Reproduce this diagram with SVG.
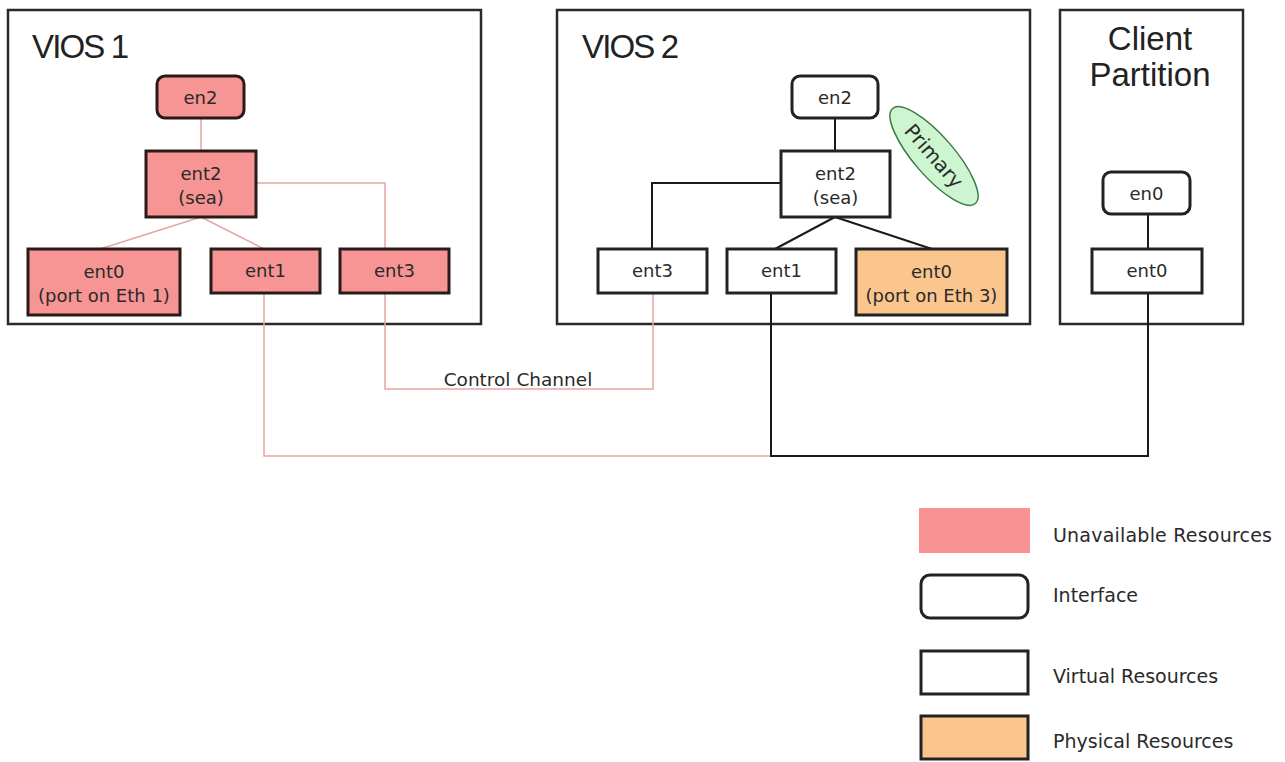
<svg xmlns="http://www.w3.org/2000/svg" width="1285" height="762" viewBox="0 0 1285 762">
<style>
.part{fill:#fff;stroke:#2a2a2a;stroke-width:2.5}
.title{font-family:"Liberation Sans",Arial,sans-serif;font-size:33px;fill:#222}
.t{font-family:"DejaVu Sans",Verdana,sans-serif;font-size:18px;fill:#2a2a2a;text-anchor:middle}
.lg{font-family:"DejaVu Sans",Verdana,sans-serif;font-size:19px;fill:#2a2a2a}
.un{fill:#F79494;stroke:#2a1a1a;stroke-width:3}
.vr{fill:#fff;stroke:#222;stroke-width:3}
.ph{fill:#FBC58E;stroke:#222;stroke-width:3}
.pl{fill:none;stroke:#E4A6A6;stroke-width:1.5}
.bl{fill:none;stroke:#1a1a1a;stroke-width:2}
</style>
<rect width="1285" height="762" fill="#fff"/>
<g id="vios1">
<rect class="part" x="8" y="10" width="473" height="314"/>
<text class="title" x="32" y="58" textLength="97">VIOS 1</text>
</g>
<g id="vios2">
<rect class="part" x="557" y="10" width="473" height="314"/>
<text class="title" x="582" y="58" textLength="97">VIOS 2</text>
</g>
<g id="client">
<rect class="part" x="1060" y="10" width="183" height="314"/>
<text class="title" x="1150" y="50" text-anchor="middle">Client</text>
<text class="title" x="1150" y="86" text-anchor="middle">Partition</text>
</g>
<g id="connectors">
<path class="pl" d="M201 118V151"/>
<path class="pl" d="M256 183H385V249"/>
<path class="pl" d="M201 217L100 249M201 217L264 249"/>
<path class="pl" d="M264 293V456H771"/>
<path class="pl" d="M385 293V389H653V293"/>
<path class="bl" d="M835 118V151"/>
<path class="bl" d="M781 183H652V249"/>
<path class="bl" d="M835 217L775 249M835 217L932 249"/>
<path class="bl" d="M771 293V456H1148V293"/>
<path class="bl" d="M1148 214V249"/>
<text x="518" y="386" class="t" style="font-size:18.5px">Control Channel</text>
</g>
<g id="v1-en2"><rect class="un" x="157" y="76" width="87" height="42" rx="8"/><text class="t" x="200.5" y="104">en2</text></g>
<g id="v1-ent2"><rect class="un" x="146" y="151" width="110" height="66"/><text class="t" x="201" y="180">ent2</text><text class="t" x="201" y="204">(sea)</text></g>
<g id="v1-ent0"><rect class="un" x="28" y="249" width="152" height="66"/><text class="t" x="104" y="278">ent0</text><text class="t" x="104" y="302">(port on Eth 1)</text></g>
<g id="v1-ent1"><rect class="un" x="211" y="249" width="109" height="44"/><text class="t" x="265.5" y="277">ent1</text></g>
<g id="v1-ent3"><rect class="un" x="340" y="249" width="109" height="44"/><text class="t" x="394.5" y="277">ent3</text></g>
<g id="v2-en2"><rect class="vr" x="792" y="76" width="86" height="42" rx="8"/><text class="t" x="835" y="104">en2</text></g>
<g id="v2-ent2"><rect class="vr" x="781" y="151" width="109" height="66"/><text class="t" x="835.5" y="180">ent2</text><text class="t" x="835.5" y="204">(sea)</text></g>
<g id="v2-primary"><g transform="translate(934 156) rotate(49)"><ellipse rx="63" ry="20" fill="#CDF5D0" stroke="#3C7A46" stroke-width="1.5"/><text class="t" x="0" y="7" style="font-size:20px">Primary</text></g></g>
<g id="v2-ent3"><rect class="vr" x="598" y="249" width="109" height="44"/><text class="t" x="652.5" y="277">ent3</text></g>
<g id="v2-ent1"><rect class="vr" x="727" y="249" width="109" height="44"/><text class="t" x="781.5" y="277">ent1</text></g>
<g id="v2-ent0"><rect class="ph" x="856" y="249" width="151" height="66"/><text class="t" x="931.5" y="278">ent0</text><text class="t" x="931.5" y="302">(port on Eth 3)</text></g>
<g id="c-en0"><rect class="vr" x="1103" y="172" width="87" height="42" rx="8"/><text class="t" x="1146.5" y="200">en0</text></g>
<g id="c-ent0"><rect class="vr" x="1092" y="249" width="110" height="44"/><text class="t" x="1147" y="277">ent0</text></g>
<g id="legend">
<rect x="919" y="508" width="111" height="45" fill="#F99393"/>
<text class="lg" x="1053" y="542" textLength="219">Unavailable Resources</text>
<rect class="vr" x="921" y="575" width="107" height="43" rx="9"/>
<text class="lg" x="1053" y="602">Interface</text>
<rect class="vr" x="921" y="651" width="107" height="43"/>
<text class="lg" x="1053" y="683">Virtual Resources</text>
<rect class="ph" x="921" y="716" width="107" height="43"/>
<text class="lg" x="1053" y="748">Physical Resources</text>
</g>
</svg>
